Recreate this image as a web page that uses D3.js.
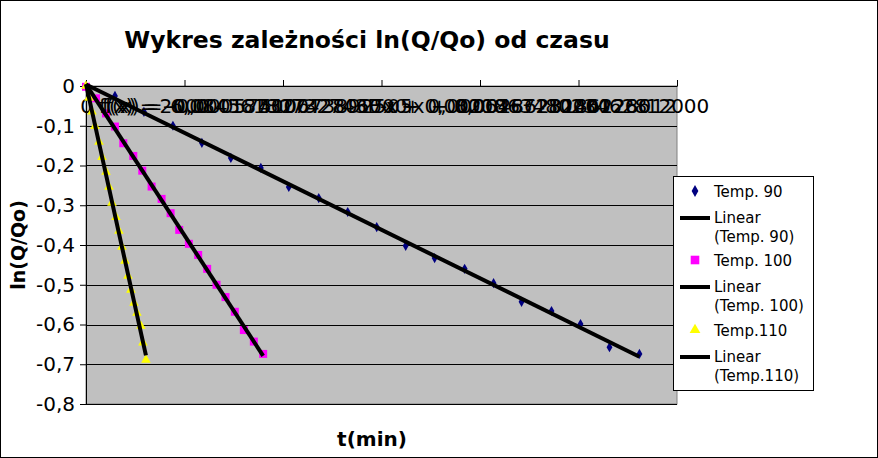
<!DOCTYPE html>
<html><head><meta charset="utf-8">
<script src="https://cdn.jsdelivr.net/npm/d3@7"></script>
<style>body{margin:0;background:#fff}svg{display:block;font-family:"DejaVu Sans",sans-serif}</style>
</head><body><svg id="c" width="878" height="458"></svg>
<script>
const title = "Wykres zależności ln(Q/Qo) od czasu";
const xTitle = "t(min)";
const yTitle = "ln(Q/Qo)";
const xTicks = [0, 2000, 4000, 6000, 8000, 10000, 12000];
const yTicks = [0, -0.1, -0.2, -0.3, -0.4, -0.5, -0.6, -0.7, -0.8];

const t90 = [0, 588, 1176, 1765, 2353, 2941, 3550, 4118, 4726, 5314, 5903, 6491, 7079, 7688, 8276, 8844, 9452, 10041, 10629, 11237];
const v90 = [0, -0.025, -0.065, -0.100, -0.143, -0.181, -0.206, -0.254, -0.282, -0.317, -0.355, -0.402, -0.433, -0.460, -0.496, -0.543, -0.566, -0.599, -0.657, -0.674];
const t100 = [0, 203, 406, 588, 757, 960, 1142, 1332, 1535, 1718, 1893, 2089, 2278, 2460, 2650, 2833, 3022, 3205, 3408, 3597];
const v100 = [-0.002, -0.031, -0.069, -0.102, -0.144, -0.176, -0.213, -0.253, -0.284, -0.320, -0.362, -0.397, -0.425, -0.460, -0.500, -0.531, -0.568, -0.614, -0.643, -0.674];
const t110 = [0, 61, 122, 183, 264, 325, 406, 467, 527, 609, 669, 730, 791, 852, 913, 974, 1034, 1115, 1156, 1217];
const v110 = [0, -0.030, -0.065, -0.101, -0.141, -0.179, -0.216, -0.254, -0.294, -0.330, -0.365, -0.405, -0.440, -0.478, -0.513, -0.546, -0.571, -0.604, -0.646, -0.689];

const seriesNames = ["Temp. 90", "Temp. 100", "Temp.110"];
const trendNames = ["Linear\n(Temp. 90)", "Linear\n(Temp. 100)", "Linear\n(Temp.110)"];
const equations = [
  "f(x) = -6,08456180732743E-05x + 0,0028623186228012",
  "f(x) = -0,000187327428017x + 0,0021863480234628",
  "f(x) = -0,000575106738925x + 0,0006467282401266"
];

const svg = d3.select("#c");
const W = 878, H = 458;
const L = 86, R = 677, T = 86, B = 404;
const x = d3.scaleLinear().domain([0, 12000]).range([L, R]);
const y = d3.scaleLinear().domain([-0.8, 0]).range([B, T]);

svg.append("rect").attr("x", 0.5).attr("y", 0.5).attr("width", W - 1).attr("height", H - 1)
  .attr("fill", "#fff").attr("stroke", "#000");

svg.append("rect").attr("x", L).attr("y", T).attr("width", R - L).attr("height", B - T)
  .attr("fill", "#c0c0c0").attr("stroke", "#808080");

// gridlines
svg.append("g").selectAll("line").data(yTicks).join("line")
  .attr("x1", L).attr("x2", R).attr("y1", d => Math.round(y(d)) + 0.5).attr("y2", d => Math.round(y(d)) + 0.5)
  .attr("stroke", "#000");

// y axis
const ya = svg.append("g").attr("transform", `translate(${L},0)`)
  .call(d3.axisLeft(y).tickValues(yTicks).tickSize(6).tickPadding(5)
    .tickFormat(d => d === 0 ? "0" : d3.format(".1f")(d).replace(".", ",").replace("−", "-")));
ya.select(".domain").attr("stroke", "#000");
ya.selectAll("text").attr("font-size", 20).attr("font-family", "DejaVu Sans").attr("fill", "#000");

// x axis at y=0, ticks inward
const xa = svg.append("g").attr("transform", `translate(0,${y(0)})`)
  .call(d3.axisBottom(x).tickValues(xTicks).tickSizeInner(-6).tickSizeOuter(0).tickPadding(13)
    .tickFormat(d => String(d)));
xa.select(".domain").attr("stroke", "#000");
xa.selectAll("text").attr("font-size", 20).attr("font-family", "DejaVu Sans").attr("fill", "#000");

// data
const sets = [
  {t: t90, v: v90, color: "#000080", shape: d3.symbolDiamond, size: 30},
  {t: t100, v: v100, color: "#ff00ff", shape: d3.symbolSquare, size: 64},
  {t: t110, v: v110, color: "#ffff00", shape: d3.symbolTriangle, size: 40}
];

function fit(ts, vs) {
  const n = ts.length, mx = d3.mean(ts), my = d3.mean(vs);
  let sxy = 0, sxx = 0;
  for (let i = 0; i < n; i++) { sxy += (ts[i] - mx) * (vs[i] - my); sxx += (ts[i] - mx) ** 2; }
  const m = sxy / sxx; return {m, b: my - m * mx};
}

sets.forEach(s => {
  const pts = s.t.map((t, i) => [t, s.v[i]]);
  svg.append("g").selectAll("path").data(pts).join("path")
    .attr("transform", d => `translate(${x(d[0])},${y(d[1])})`)
    .attr("d", d3.symbol(s.shape, s.size)).attr("fill", s.color);
});
sets.forEach(s => {
  const f = fit(s.t, s.v);
  const t0 = d3.min(s.t), t1 = d3.max(s.t);
  svg.append("line").attr("x1", x(t0)).attr("y1", y(f.m * t0 + f.b))
    .attr("x2", x(t1)).attr("y2", y(f.m * t1 + f.b))
    .attr("stroke", "#000").attr("stroke-width", 4);
});

// equations (overlapping, as in the original)
const eqX = [99, 102, 105];
svg.append("g").selectAll("text").data(equations).join("text")
  .attr("x", (d, i) => eqX[i]).attr("y", 113).attr("font-size", 20).attr("fill", "#000")
  .text(d => d);

// titles
svg.append("text").attr("x", 367).attr("y", 48).attr("text-anchor", "middle")
  .attr("font-size", 23.5).attr("font-weight", "bold").text(title);
svg.append("text").attr("x", 372).attr("y", 446).attr("text-anchor", "middle")
  .attr("font-size", 20).attr("font-weight", "bold").text(xTitle);
svg.append("text").attr("transform", "translate(25,245) rotate(-90)").attr("text-anchor", "middle")
  .attr("font-size", 19).attr("font-weight", "bold").text(yTitle);

// legend
const lg = svg.append("g");
lg.append("rect").attr("x", 673.5).attr("y", 176.5).attr("width", 140).attr("height", 214)
  .attr("fill", "#fff").attr("stroke", "#000");
const rowY = [197, 266, 336];
sets.forEach((s, i) => {
  lg.append("path").attr("transform", `translate(695,${rowY[i] - 6})`)
    .attr("d", d3.symbol(s.shape, s.size + 10)).attr("fill", s.color);
  lg.append("text").attr("x", 714).attr("y", rowY[i]).attr("font-size", 15).text(seriesNames[i]);
  const ly = rowY[i] + 26;
  lg.append("line").attr("x1", 680).attr("x2", 710).attr("y1", ly - 5).attr("y2", ly - 5)
    .attr("stroke", "#000").attr("stroke-width", 4);
  const parts = trendNames[i].split("\n");
  lg.append("text").attr("x", 714).attr("y", ly).attr("font-size", 15).text(parts[0]);
  lg.append("text").attr("x", 714).attr("y", ly + 19).attr("font-size", 15).text(parts[1]);
});
</script></body></html>
